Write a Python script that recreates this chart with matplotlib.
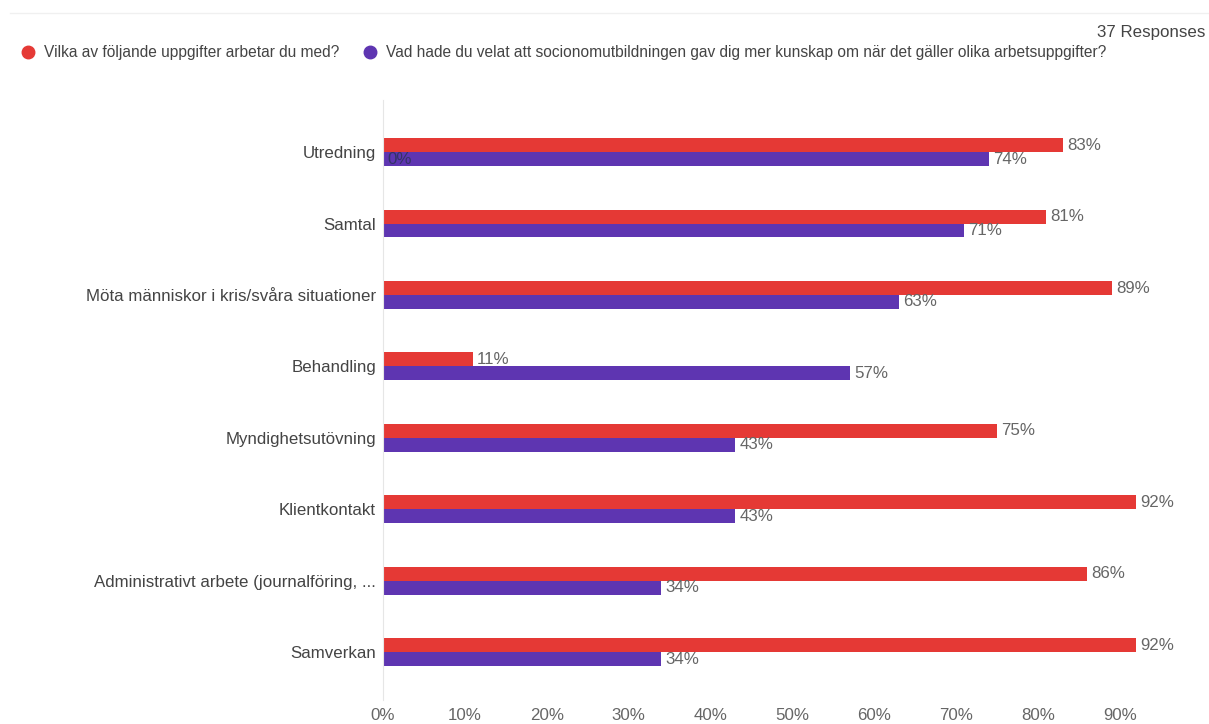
import numpy as np
import matplotlib.pyplot as plt

plt.rcParams['font.family'] = ['Liberation Sans', 'DejaVu Sans']

categories = ['Utredning', 'Samtal', 'Möta människor i kris/svåra situationer', 'Behandling',
              'Myndighetsutövning', 'Klientkontakt', 'Administrativt arbete (journalföring, ...',
              'Samverkan']
arbetar = [83, 81, 89, 11, 75, 92, 86, 92]
velat = [74, 71, 63, 57, 43, 43, 34, 34]
series_names = ['Vilka av följande uppgifter arbetar du med?',
                'Vad hade du velat att socionomutbildningen gav dig mer kunskap om när det gäller olika arbetsuppgifter?']
xticks = [0, 10, 20, 30, 40, 50, 60, 70, 80, 90]

red = '#e53935'
purple = '#5e35b1'
fs = 12.2

fig = plt.figure(figsize=(12.09, 7.24), dpi=100)
ax = fig.add_axes([383/1209, 1-700/724, 819/1209, 600/724])

y = np.arange(len(categories))
h = 0.195
ax.barh(y - h/2, arbetar, height=h, color=red)
ax.barh(y + h/2, velat, height=h, color=purple)

for i in range(len(categories)):
	ax.text(arbetar[i] + 0.5, y[i] - h/2, '%d%%' % arbetar[i], va='center', ha='left', fontsize=fs, color='#666666')
	ax.text(velat[i] + 0.5, y[i] + h/2, '%d%%' % velat[i], va='center', ha='left', fontsize=fs, color='#666666')
# stray label drawn at zero on the first row
ax.text(0.5, y[0] + h/2, '0%', va='center', ha='left', fontsize=fs, color='#333366')

ax.set_xlim(0, 100)
ax.set_ylim(7.67, -0.73)
ax.set_yticks(y)
ax.set_yticklabels(categories, fontsize=fs, color='#444444')
ax.set_xticks(xticks)
ax.set_xticklabels(['%d%%' % v for v in xticks], fontsize=fs, color='#666666')
ax.tick_params(length=0, pad=5)
ax.tick_params(axis='x', pad=6)
for s in ['top', 'right', 'bottom']:
	ax.spines[s].set_visible(False)
ax.spines['left'].set_color('#e6e6e6')

# legend row
fig.add_artist(plt.Line2D([10/1209, 1], [1-13/724, 1-13/724], color='#f0f0f0', lw=1))
fig.add_artist(plt.Line2D([28/1209], [1-52/724], marker='o', ms=9, color=red, ls='none'))
fig.text(44/1209, 1-52/724, series_names[0], color='#444444', fontsize=11.2, va='center')
fig.add_artist(plt.Line2D([370/1209], [1-52/724], marker='o', ms=9, color=purple, ls='none'))
fig.text(386/1209, 1-52/724, series_names[1], color='#444444', fontsize=11.2, va='center')
fig.text(1205/1209, 1-33/724, '37 Responses', color='#444444', fontsize=fs, va='center', ha='right')

fig.savefig('out.png', dpi=100)
